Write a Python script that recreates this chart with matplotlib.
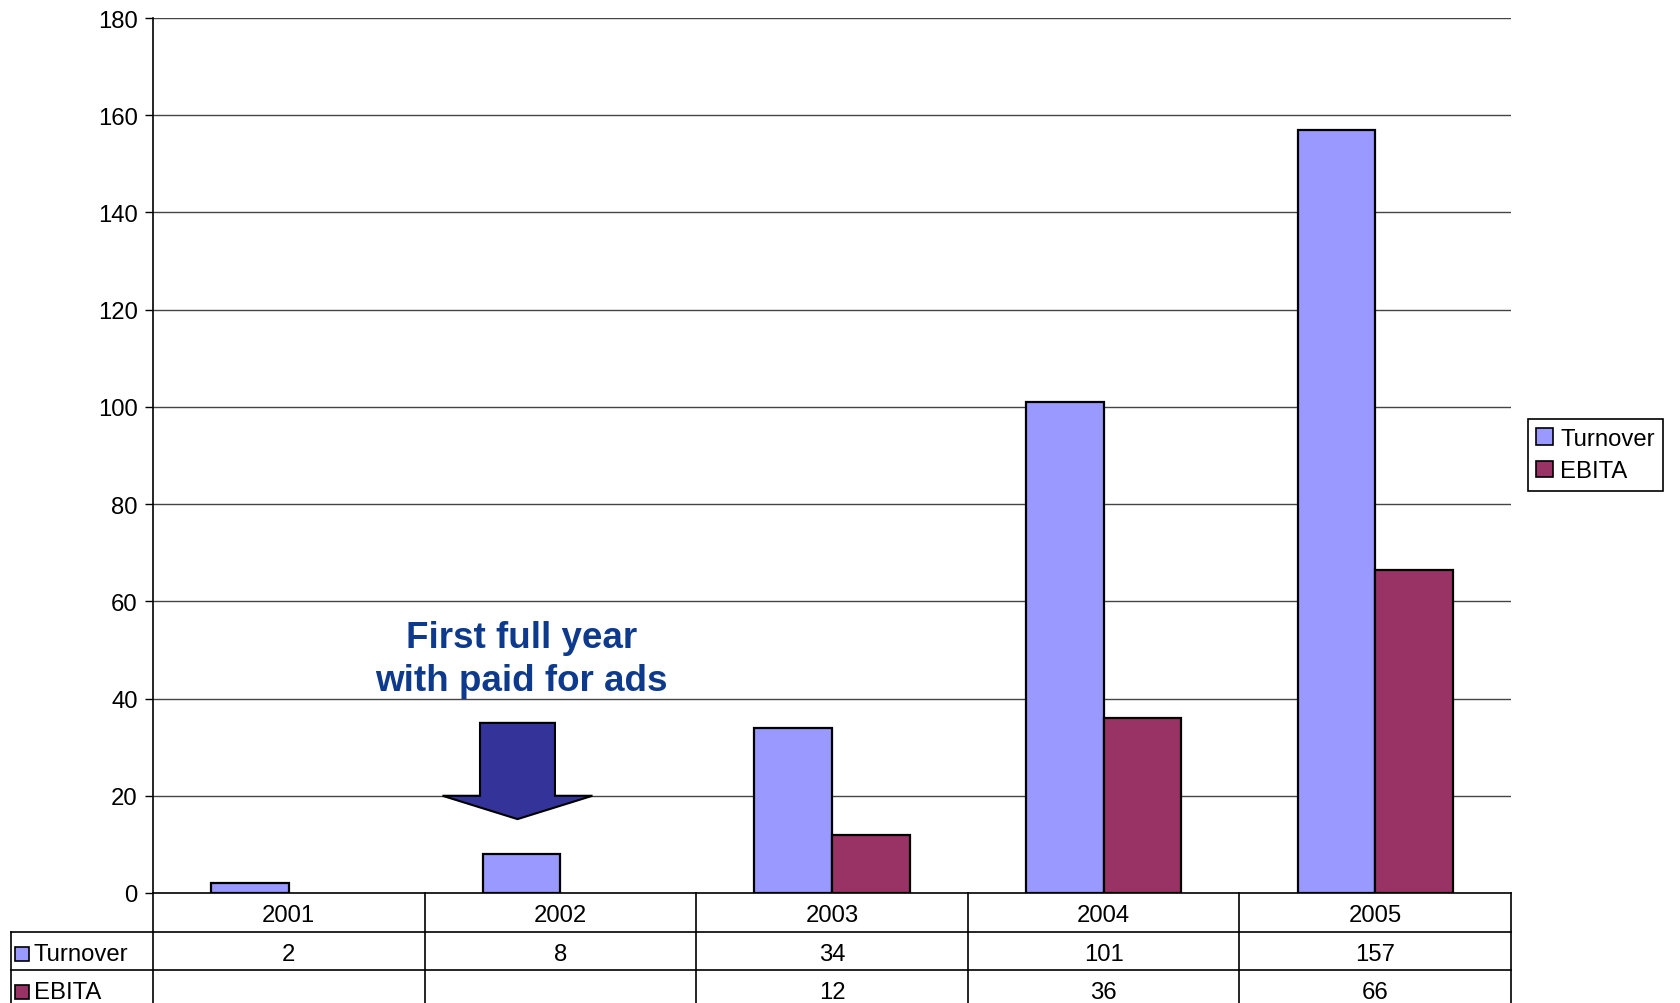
import matplotlib
matplotlib.use('Agg')
import matplotlib.pyplot as plt
from matplotlib.patches import Patch, Polygon, Rectangle
from matplotlib.lines import Line2D

# data
years = ['2001', '2002', '2003', '2004', '2005']
turnover = [2, 8, 34, 101, 157]
ebita = [None, None, 12, 36, 66.4]
series_names = ['Turnover', 'EBITA']
series_colors = ['#9999FF', '#993366']
y_ticks = [0, 20, 40, 60, 80, 100, 120, 140, 160, 180]
note_text = 'First full year\nwith paid for ads'

plt.rcParams['font.family'] = ['Liberation Sans', 'DejaVu Sans']
FS = 17.2

W, H = 1681, 1004
AX_L, AX_R, AX_T, AX_B = 153, 1511, 19, 894
fig = plt.figure(figsize=(W / 100, H / 100), dpi=100)
ax = fig.add_axes([AX_L / W, 1 - AX_B / H, (AX_R - AX_L) / W, (AX_B - AX_T) / H])

bw = 1 / 3.5
xs = list(range(len(years)))
for i, x in enumerate(xs):
    ax.bar(x - bw / 2, turnover[i], width=bw, color=series_colors[0],
           edgecolor='black', linewidth=1.6, zorder=3)
    if ebita[i] is not None:
        ax.bar(x + bw / 2, ebita[i], width=bw, color=series_colors[1],
               edgecolor='black', linewidth=1.6, zorder=3)

ax.set_xlim(-0.5, len(years) - 0.5)
ax.set_ylim(0, 180)
ax.set_yticks(y_ticks)
ax.set_yticklabels([str(t) for t in y_ticks], fontsize=FS)
ax.tick_params(axis='y', length=6, width=1, pad=5, direction='out')
ax.set_xticks([])
for y in y_ticks[1:]:
    ax.axhline(y, color='#444444', lw=1, zorder=1)
for s in ['top', 'right']:
    ax.spines[s].set_visible(False)
ax.spines['left'].set_linewidth(1.2)
ax.spines['bottom'].set_linewidth(1.2)

# arrow annotation in front of 2002
cx, sh, hh = 1 - 0.158, 0.138, 0.276
arrow = Polygon([(cx - sh, 35), (cx + sh, 35), (cx + sh, 20), (cx + hh, 20),
                 (cx, 15.2), (cx - hh, 20), (cx - sh, 20)], closed=True,
                facecolor='#333399', edgecolor='black', linewidth=1.5, zorder=4)
ax.add_patch(arrow)
ax.text(1 - 0.142, 48.2, note_text, ha='center', va='center', fontsize=26.5,
        fontweight='bold', color='#0D3A8C', linespacing=1.3, zorder=5)

# data table under the chart
tr = ax.get_xaxis_transform()
ax_h = AX_B - AX_T
row_h = 38.5 / ax_h
txt_dy = 3 / ax_h
x_left = (11 - AX_L) / (AX_R - AX_L) * len(years) - 0.5
tbl_kw = dict(transform=tr, clip_on=False, color='black', lw=1.2)
for k in range(len(years) + 1):
    ax.add_line(Line2D([k - 0.5, k - 0.5], [0, -3.2 * row_h], **tbl_kw))
ax.add_line(Line2D([x_left, x_left], [-row_h, -3.2 * row_h], **tbl_kw))
for r in [1, 2]:
    ax.add_line(Line2D([x_left, len(years) - 0.5], [-r * row_h, -r * row_h], **tbl_kw))

for i, x in enumerate(xs):
    ax.text(x, -0.5 * row_h - txt_dy, years[i], transform=tr, ha='center',
            va='center', fontsize=FS)
    ax.text(x, -1.5 * row_h - txt_dy, f'{turnover[i]:.0f}', transform=tr, ha='center',
            va='center', fontsize=FS)
    if ebita[i] is not None:
        ax.text(x, -2.5 * row_h - txt_dy, f'{ebita[i]:.0f}', transform=tr, ha='center',
                va='center', fontsize=FS)

sq_w = 14 / (AX_R - AX_L) * len(years)
sq_h = 14 / ax_h
for r, (name, col) in enumerate(zip(series_names, series_colors)):
    yc = -(r + 1.5) * row_h - txt_dy
    x0 = (15 - AX_L) / (AX_R - AX_L) * len(years) - 0.5
    ax.add_patch(Rectangle((x0, yc - sq_h / 2), sq_w, sq_h, transform=tr, clip_on=False,
                           facecolor=col, edgecolor='black', lw=1.2))
    ax.text(x0 + sq_w * 1.35, yc, name, transform=tr, ha='left', va='center', fontsize=FS)

# legend
handles = [Patch(facecolor=c, edgecolor='black', linewidth=1.2) for c in series_colors]
leg = fig.legend(handles, series_names, loc='center left',
                 bbox_to_anchor=(1528 / W, 1 - 456 / H), fontsize=FS,
                 handlelength=0.7, handleheight=0.7, handletextpad=0.3,
                 borderpad=0.35, labelspacing=0.45, fancybox=False,
                 edgecolor='black', framealpha=1, borderaxespad=0)
leg.get_frame().set_linewidth(1.2)

fig.savefig('out.png', dpi=100)
